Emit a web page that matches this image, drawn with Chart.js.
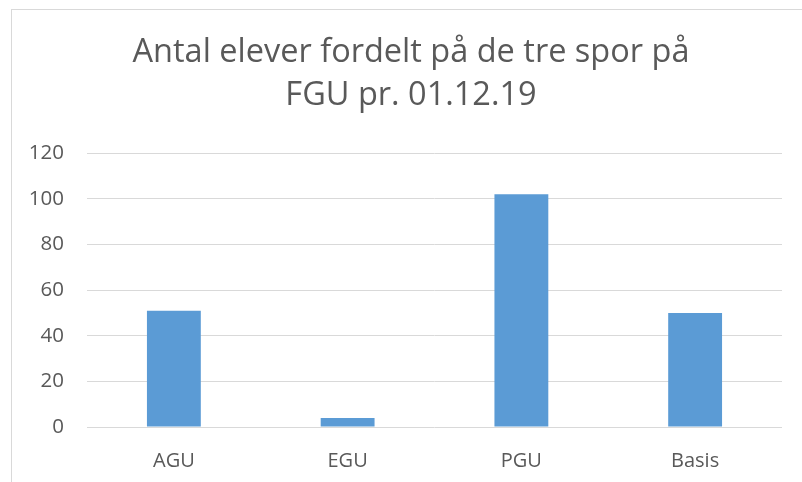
<!DOCTYPE html>
<html>
<head>
<meta charset="utf-8">
<script src="https://cdn.jsdelivr.net/npm/chart.js@4"></script>
<style>
  html, body { margin: 0; padding: 0; background: #fff; overflow: hidden; }
  #frame {
    position: absolute; left: 11px; top: 9px; width: 900px; height: 600px;
    border: 1px solid #d9d9d9; box-sizing: border-box;
  }
  #wrap { position: absolute; left: 12px; top: 10px; width: 798px; height: 472px; }
</style>
</head>
<body>
<div id="frame"></div>
<div id="wrap"><canvas id="chart"></canvas></div>
<script>
// chart data
const categories = ['AGU', 'EGU', 'PGU', 'Basis'];
const elever = [51, 4, 102, 50];
const titleLines = ['Antal elever fordelt på de tre spor på', 'FGU pr. 01.12.19'];

const textColor = '#595959';
const gridColor = '#d9d9d9';

new Chart(document.getElementById('chart'), {
    type: 'bar',
    data: {
        labels: categories,
        datasets: [{
            label: 'Antal elever',
            data: elever,
            backgroundColor: '#5b9bd5',
            borderWidth: 0,
            categoryPercentage: 1,
            barPercentage: 0.31,
            yAxisID: 'y'
        }]
    },
    options: {
        responsive: true,
        maintainAspectRatio: false,
        animation: false,
        layout: { padding: 0 },
        plugins: {
            legend: { display: false },
            tooltip: { enabled: false },
            title: {
                display: true,
                text: titleLines,
                color: textColor,
                font: { family: 'Open Sans', size: 32.5, weight: 'normal', lineHeight: 1.32 },
                padding: { top: 21.5, bottom: 36 }
            }
        },
        scales: {
            x: {
                grid: { display: false },
                border: { display: false },
                ticks: { color: textColor, font: { family: 'Open Sans', size: 20 }, padding: 14 },
                afterFit: function(scale) { scale.height = 55; }
            },
            y: {
                min: 0,
                max: 120,
                ticks: { stepSize: 20, color: textColor, font: { family: 'Open Sans', size: 20.5 }, padding: 23 },
                grid: { color: gridColor, lineWidth: 1, drawTicks: false },
                border: { display: false },
                afterFit: function(scale) { scale.width = 75; }
            },
            // empty right axis, only used as right margin so the title stays centred
            yRight: {
                position: 'right',
                min: 0,
                max: 120,
                grid: { display: false },
                border: { display: false },
                ticks: { display: false },
                afterFit: function(scale) { scale.width = 28; }
            }
        }
    }
});
</script>
</body>
</html>
